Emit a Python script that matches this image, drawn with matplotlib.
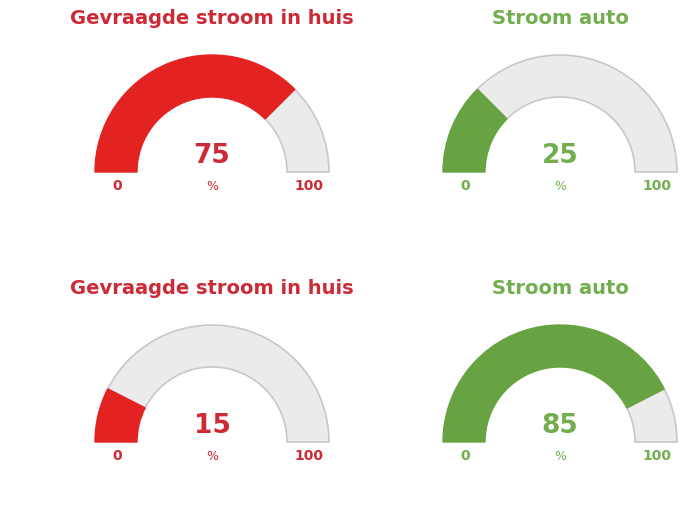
import matplotlib
matplotlib.use("Agg")
import matplotlib.pyplot as plt
from matplotlib.patches import Wedge

# Data
titles = ["Gevraagde stroom in huis", "Stroom auto", "Gevraagde stroom in huis", "Stroom auto"]
values = [75, 25, 15, 85]
fill_colors = ["#e32222", "#67a342", "#e32222", "#67a342"]
text_colors = ["#cc2a36", "#72ad4e", "#cc2a36", "#72ad4e"]
min_label = "0"
max_label = "100"
unit = "%"
vmax = 100

# Layout (pixel coordinates, y measured from top)
W, H = 699, 527
centers = [(212, 172), (560, 172), (212, 442), (560, 442)]
title_y = [18, 18, 289, 289]
r_out, r_in = 117, 75

fig = plt.figure(figsize=(W / 100, H / 100), dpi=100)
ax = fig.add_axes([0, 0, 1, 1])
ax.set_xlim(0, W)
ax.set_ylim(0, H)
ax.axis("off")

font = "DejaVu Sans"
for i in range(4):
    cx, cy = centers[i]
    cy = H - cy
    v = values[i]
    ang = 180 - 180 * v / vmax
    # grey remainder
    ax.add_patch(Wedge((cx, cy), r_out, 0, ang, width=r_out - r_in,
                       facecolor="#ebebeb", edgecolor="#c8c8c8", lw=1.2))
    # value
    ax.add_patch(Wedge((cx, cy), r_out, ang, 180, width=r_out - r_in,
                       facecolor=fill_colors[i], edgecolor=fill_colors[i], lw=1.0))
    ax.text(cx, H - title_y[i], titles[i], ha="center", va="center",
            fontsize=14, fontweight="bold", color=text_colors[i], family=font)
    ax.text(cx, cy + 16, str(v), ha="center", va="center",
            fontsize=19, fontweight="bold", color=text_colors[i], family=font)
    ax.text(cx, cy - 14, unit, ha="center", va="center",
            fontsize=9, color=text_colors[i], family=font)
    ax.text(cx - r_out + 22, cy - 14, min_label, ha="center", va="center",
            fontsize=10, fontweight="bold", color=text_colors[i], family=font)
    ax.text(cx + r_out - 20, cy - 14, max_label, ha="center", va="center",
            fontsize=10, fontweight="bold", color=text_colors[i], family=font)

fig.savefig("out.png", dpi=100, facecolor="white")
